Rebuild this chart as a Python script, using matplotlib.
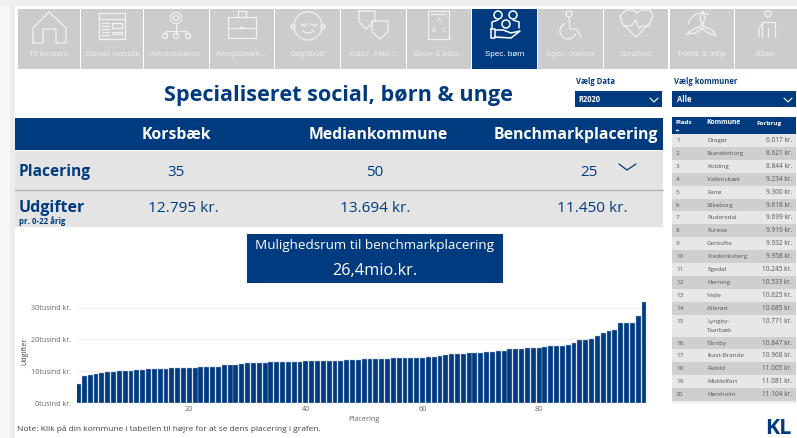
import matplotlib
matplotlib.use("Agg")
import matplotlib.pyplot as plt
from matplotlib.patches import Rectangle, Circle, Arc

BLUE = "#003b7f"
TILE = "#cccccc"
ICON = "#f2f2f2"
plt.rcParams['font.family'] = ['Open Sans', 'DejaVu Sans']

# nav bar
tile_labels = ["Til forsiden", "Samlet overblik", "Administration", "Arbejdsmark...", "Dagtilbud",
               "Kultur, fritid ...", "Skole & fritid...", "Spec. børn", "Spec. voksna", "Sundhed",
               "Teknik & miljø", "Ældre"]
tile_left = [18, 81, 144, 210, 275, 341, 407, 472, 538, 604, 670, 735]
tile_right = [80, 143, 209, 274, 340, 406, 471, 537, 603, 668, 734, 797]

# summary table
columns = ["Korsbæk", "Mediankommune", "Benchmarkplacering"]
placering = ["35", "50", "25"]
udgifter = ["12.795 kr.", "13.694 kr.", "11.450 kr."]

# ranking table on the right
kommuner = ["Dragør", "Skanderborg", "Kolding", "Vallensbæk", "Fanø", "Silkeborg", "Rudersdal", "Furesø",
            "Gentofte", "Frederiksberg", "Egedal", "Herning", "Vejle", "Allerød", "Lyngby-\nTaarbæk", "Tårnby",
            "Ikast-Brande", "Rebild", "Middelfart", "Hørsholm"]
forbrug = ["6.017 kr.", "8.621 kr.", "8.844 kr.", "9.234 kr.", "9.300 kr.", "9.618 kr.", "9.699 kr.", "9.919 kr.",
           "9.932 kr.", "9.958 kr.", "10.245 kr.", "10.533 kr.", "10.625 kr.", "10.685 kr.", "10.771 kr.",
           "10.847 kr.", "10.968 kr.", "11.005 kr.", "11.081 kr.", "11.104 kr."]

# bars, 1000 kr. per rank
udgift = [6.017, 8.621, 8.844, 9.234, 9.3, 9.618, 9.699, 9.919, 9.932, 9.958,
          10.245, 10.533, 10.625, 10.685, 10.771, 10.847, 10.968, 11.005, 11.081, 11.104,
          11.12, 11.25, 11.32, 11.4, 11.45, 11.9, 12.0, 12.1, 12.3, 12.55,
          12.58, 12.65, 12.7, 12.75, 12.795, 12.85, 12.9, 12.95, 13.0, 13.15,
          13.2, 13.25, 13.28, 13.3, 13.32, 13.35, 13.38, 13.5, 13.6, 13.694,
          13.7, 13.72, 13.74, 13.78, 14.0, 14.02, 14.1, 14.12, 14.13, 14.2,
          14.45, 14.55, 14.8, 15.0, 15.3, 15.32, 15.5, 15.65, 15.7, 15.85,
          16.0, 16.2, 16.35, 16.45, 16.9, 17.0, 17.02, 17.35, 17.38, 17.45,
          17.7, 17.9, 17.95, 18.0, 18.3, 18.85, 19.85, 19.95, 20.2, 21.05,
          22.1, 22.75, 23.0, 25.2, 25.2, 25.3, 27.3, 31.9]
y_ticks = [0, 10, 20, 30]
x_ticks = [20, 40, 60, 80]

fig = plt.figure(figsize=(7.97, 4.38), dpi=100)

# page in pixel coordinates
bg = fig.add_axes([0, 0, 1, 1])
bg.set_xlim(0, 797)
bg.set_ylim(438, 0)
bg.axis("off")


def box(x0, y0, x1, y1, color):
    bg.add_patch(Rectangle((x0, y0), x1 - x0, y1 - y0, fc=color, ec="none"))


def line(pts, color=ICON, lw=0.9):
    bg.plot([p[0] for p in pts], [p[1] for p in pts], color=color, lw=lw, solid_capstyle="round")


def rect(x0, y0, x1, y1, color=ICON, lw=0.9):
    line([(x0, y0), (x1, y0), (x1, y1), (x0, y1), (x0, y0)], color, lw)


def circ(x, y, r, color=ICON, lw=0.9):
    bg.add_patch(Circle((x, y), r, fc="none", ec=color, lw=lw))


def draw_icons():
    # house
    line([(33, 43), (33, 28), (49, 12), (66, 28), (66, 43), (56, 43), (56, 29), (43, 29), (43, 43), (33, 43)])
    # window
    rect(99, 13, 125, 39)
    line([(99, 19), (125, 19)])
    rect(112, 23, 122, 28)
    rect(112, 32, 116, 34)
    rect(118, 32, 122, 34)
    for y in [23, 26, 29, 32, 35]:
        line([(102, y), (109, y)])
    # admin
    circ(176, 18, 5.5)
    circ(176, 18, 2.5)
    line([(176, 24), (176, 31)])
    line([(166, 31), (186, 31)])
    line([(166, 31), (166, 34)])
    line([(186, 31), (186, 34)])
    line([(176, 31), (176, 34)])
    circ(165, 36, 2.5)
    circ(176, 36, 2.5)
    circ(188, 36, 2.5)
    # briefcase
    rect(228, 17, 256, 38)
    rect(238, 11, 246, 17)
    line([(228, 28), (256, 28)])
    line([(241, 28), (243, 28)], lw=1.6)
    # baby
    circ(308, 26, 14)
    circ(293, 27, 2)
    circ(323, 27, 2)
    line([(301, 24), (304, 26), (307, 24)])
    line([(311, 24), (314, 26), (317, 24)])
    bg.add_patch(Arc((308, 30), 10, 6, theta1=0, theta2=180, ec=ICON, lw=0.9))
    # masks
    line([(359, 11), (375, 11), (375, 20), (366, 29), (359, 22), (359, 11)])
    line([(372, 21), (388, 21), (388, 32), (380, 39), (372, 32), (372, 21)])
    # book
    rect(428, 11, 449, 39)
    line([(431, 14), (446, 14)])
    bg.text(439, 21, "A", color=ICON, fontsize=5, ha="center", va="center")
    bg.text(434, 30, "B", color=ICON, fontsize=5, ha="center", va="center")
    bg.text(444, 30, "C", color=ICON, fontsize=5, ha="center", va="center")
    # spec boern, white because the tile is selected
    for x, y in [(498, 15), (513, 15), (506, 24)]:
        circ(x, y, 4, "white", 1.1)
    line([(492, 28), (492, 22), (498, 20)], "white", 1.1)
    line([(519, 28), (519, 22), (513, 20)], "white", 1.1)
    rect(491, 29, 495, 38, "white", 1.1)
    line([(495, 30), (503, 30), (511, 33), (520, 31), (511, 38), (495, 37)], "white", 1.1)
    # wheelchair
    circ(569, 14, 3)
    line([(569, 18), (570, 29), (577, 29), (581, 37)])
    bg.add_patch(Arc((568, 31), 16, 16, theta1=20, theta2=250, ec=ICON, lw=0.9))
    # heart
    line([(636, 37), (622, 23), (620, 16), (626, 10), (634, 10), (636, 13), (642, 10), (650, 10), (653, 16),
          (650, 23), (636, 37)])
    line([(623, 26), (631, 26), (636, 20), (639, 29), (642, 26), (650, 26)])
    # turbine
    circ(702, 27, 2)
    line([(702, 24), (700, 18), (703, 11), (705, 18), (703, 24)])
    line([(699, 27), (690, 31), (687, 34), (695, 33), (701, 29)])
    line([(705, 27), (712, 30), (716, 36), (708, 33), (703, 29)])
    bg.add_patch(Arc((702, 27), 28, 28, theta1=190, theta2=300, ec=ICON, lw=0.8))
    # elder
    circ(768, 14, 3)
    line([(762, 37), (762, 22), (775, 22), (775, 37)])
    line([(768, 37), (768, 28)])
    line([(762, 24), (759, 29), (759, 37)])


# page edges
box(0, 0, 797, 6, "#efefef")
box(0, 6, 10, 438, "#f7f7f7")
box(10, 6, 15, 438, "#ececec")

for i, label in enumerate(tile_labels):
    selected = label == "Spec. børn"
    box(tile_left[i], 9, tile_right[i], 69, BLUE if selected else TILE)
    cx = (tile_left[i] + tile_right[i]) / 2
    cy = 55 if i < 2 else 54
    bg.text(cx, cy, label, color="#ffffff" if selected else "#ececec", fontsize=5.8, ha="center", va="center",
            family=['Liberation Sans', 'DejaVu Sans'])
draw_icons()

bg.text(338, 95, "Specialiseret social, børn & unge", color=BLUE, fontsize=15.6, fontweight="bold",
        ha="center", va="center")

# dropdowns
bg.text(576, 82, "Vælg Data", color=BLUE, fontsize=5.5, fontweight="bold", va="center")
box(575, 91, 662, 107, BLUE)
bg.text(578, 100, "R2020", color="white", fontsize=5.5, fontweight="bold", va="center")
line([(650, 98), (654, 102), (658, 98)], "white", 0.8)
bg.text(674, 82, "Vælg kommuner", color=BLUE, fontsize=5.5, fontweight="bold", va="center")
box(672, 91, 796, 107, BLUE)
bg.text(677, 100, "Alle", color="white", fontsize=5.5, fontweight="bold", va="center")
line([(784, 98), (788, 102), (792, 98)], "white", 0.8)

# summary block
box(15, 118, 663, 150, BLUE)
box(15, 151, 663, 227, "#e4e4e4")
line([(15, 190), (663, 190)], "#b5b5b5", 1.0)
head_x = [176, 378, 576]
plac_x = [176, 375, 589]
udg_x = [183, 375, 592]
for i in range(3):
    bg.text(head_x[i], 135, columns[i], color="white", fontsize=11.3, fontweight="bold", ha="center", va="center")
    bg.text(plac_x[i], 172, placering[i], color=BLUE, fontsize=11, ha="center", va="center")
    bg.text(udg_x[i], 209, udgifter[i], color=BLUE, fontsize=11.1, ha="center", va="center")
bg.text(19, 171.5, "Placering", color=BLUE, fontsize=11.2, fontweight="bold", va="center")
bg.text(19, 208, "Udgifter", color=BLUE, fontsize=11.5, fontweight="bold", va="center")
bg.text(19, 221.5, "pr. 0-22 årig", color=BLUE, fontsize=5.7, fontweight="bold", va="center")
line([(619, 164), (627, 170), (636, 164)], BLUE, 0.9)

box(247, 234, 503, 283, BLUE)
bg.text(375, 246, "Mulighedsrum til benchmarkplacering", color="white", fontsize=9.7, ha="center", va="center")
bg.text(375, 271, "26,4mio.kr.", color="white", fontsize=11.8, fontweight="medium", ha="center", va="center")

# ranking table
box(672, 117, 796, 134, BLUE)
bg.text(676, 123, "Plads", color="white", fontsize=4.5, fontweight="bold", va="center")
bg.text(706, 123, "Kommune", color="white", fontsize=4.9, fontweight="bold", va="center")
bg.text(756, 123, "Forbrug", color="white", fontsize=4.6, fontweight="bold", va="center")
line([(676, 130), (678, 130)], "white", 1.0)
y = 134
for i, (k, f) in enumerate(zip(kommuner, forbrug)):
    h = 22 if "\n" in k else 12.9
    box(672, y, 796, y + h, "#e7e7e7" if i % 2 == 0 else "#cfcfcf")
    ty = y + 6.5
    bg.text(676, ty, str(i + 1), color="#555555", fontsize=4.6, va="center")
    bg.text(707, ty, k.split("\n")[0], color="#555555", fontsize=4.5, va="center")
    if "\n" in k:
        bg.text(707, ty + 9, k.split("\n")[1], color="#555555", fontsize=4.5, va="center")
    bg.text(792, ty, f, color="#555555", fontsize=4.7, ha="right", va="center")
    y += h
box(672, y, 796, y + 2, "#ececec")

bg.text(17, 429, "Note: Klik på din kommune i tabellen til højre for at se dens placering i grafen.",
        color="#444444", fontsize=6.05, va="center")
bg.text(765, 428, "KL", color=BLUE, fontsize=15.5, fontweight="bold", va="center")

# bar chart
ax = fig.add_axes([77 / 797, (438 - 403) / 438, (650 - 77) / 797, 103 / 438])
ax.patch.set_alpha(0)
ranks = list(range(1, len(udgift) + 1))
ax.bar(ranks, udgift, width=0.84, color=BLUE, edgecolor="#a9bcd6", linewidth=0.3, zorder=3)
ax.set_xlim(0.74, 99.03)
ax.set_ylim(0, 32.4)
ax.set_xticks(x_ticks)
ax.set_yticks(y_ticks)
ax.set_yticklabels([str(v) + "tusind kr." for v in y_ticks])
ax.tick_params(axis="y", length=0, labelsize=5.2, labelcolor="#666666", pad=4)
ax.tick_params(axis="x", length=0, labelsize=5.2, labelcolor="#666666", pad=2.5)
ax.grid(axis="y", color="#f0f0f0", lw=0.9, zorder=0)
ax.set_axisbelow(True)
for s in ax.spines.values():
    s.set_visible(False)
ax.set_xlabel("Placering", fontsize=5.2, color="#666666", labelpad=2)
ax.set_ylabel("Udgifter", fontsize=5.2, color="#444444", labelpad=2)

fig.savefig("out.png", dpi=100)
